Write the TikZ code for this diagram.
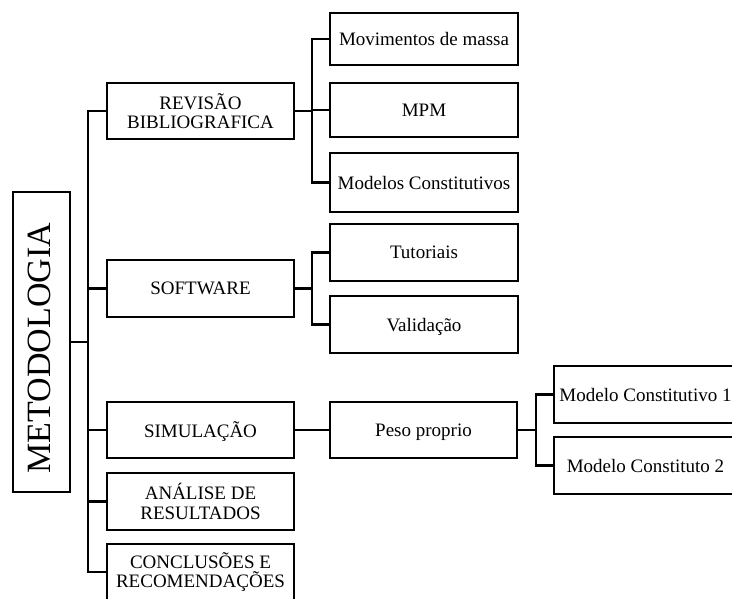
\documentclass[tikz,border=0pt]{standalone}
\usepackage{fontspec}
\setmainfont{Liberation Serif}
\begin{document}
\begin{tikzpicture}[x=1pt,y=-1pt,
  every node/.style={inner sep=0pt, outer sep=0pt},
  box/.style={draw, line width=2.6pt, align=center,
    font=\fontsize{19}{19.5}\selectfont},
  onerow/.style={text depth=0pt},
  link/.style={line width=2.6pt}]
\useasboundingbox (0,0) rectangle (732,599);

% root
\node[box, minimum width=57pt, minimum height=300pt] (meto) at (41.5,342) {};
\node[rotate=90, font=\fontsize{34}{36}\selectfont, text depth=0pt]
  at ([xshift=-2pt,yshift=-6pt]meto.center) {METODOLOGIA};

% first level
\node[box, minimum width=187pt, minimum height=56pt] (rev)  at (200.5,111)   {REVISÃO\\BIBLIOGRAFICA};
\node[box, onerow, minimum width=187pt, minimum height=57pt] (soft) at (200.5,288.5) {SOFTWARE};
\node[box, onerow, minimum width=187pt, minimum height=56pt] (sim)  at (200.5,430)   {SIMULAÇÃO};
\node[box, minimum width=187pt, minimum height=57pt] (ana)  at (200.5,501.5) {ANÁLISE DE\\RESULTADOS};
\node[box, minimum width=187pt, minimum height=56pt] (conc) at (200.5,572)   {CONCLUSÕES E\\RECOMENDAÇÕES};

% second level
\node[box, onerow, minimum width=188pt, minimum height=52pt] (mov)  at (424,39)    {Movimentos de massa};
\node[box, onerow, minimum width=188pt, minimum height=54pt] (mpm)  at (424,110)   {MPM};
\node[box, onerow, minimum width=188pt, minimum height=59pt] (modc) at (424,182.5) {Modelos Constitutivos};
\node[box, onerow, minimum width=188pt, minimum height=57pt] (tut)  at (424,252.5) {Tutoriais};
\node[box, onerow, minimum width=188pt, minimum height=57pt] (val)  at (424,324.5) {Validação};
\node[box, onerow, minimum width=187pt, minimum height=56pt] (peso) at (423.5,430) {Peso proprio};

% third level
\node[box, onerow, minimum width=183pt, minimum height=57pt] (m1) at (645.5,394.5) {Modelo Constitutivo 1};
\node[box, onerow, minimum width=183pt, minimum height=57pt] (m2) at (645.5,465.5) {Modelo Constituto 2};

% trunk from the root
\coordinate (tr) at (88,342);
\draw[link] (meto.east) -- (tr);
\draw[link] (tr) |- (rev.west);
\draw[link] (tr) |- (soft.west);
\draw[link] (tr) |- (sim.west);
\draw[link] (tr) |- (ana.west);
\draw[link] (tr) |- (conc.west);

% branches of the literature review
\coordinate (b1) at (312,111);
\draw[link] (rev.east) -- (b1);
\draw[link] (b1) |- (mov.west);
\draw[link] (b1) |- (mpm.west);
\draw[link] (b1) |- (modc.west);

% branches of the software
\coordinate (b2) at (312,288.5);
\draw[link] (soft.east) -- (b2);
\draw[link] (b2) |- (tut.west);
\draw[link] (b2) |- (val.west);

% simulation chain
\draw[link] (sim.east) -- (peso.west);
\coordinate (b3) at (536,430);
\draw[link] (peso.east) -- (b3);
\draw[link] (b3) |- (m1.west);
\draw[link] (b3) |- (m2.west);
\end{tikzpicture}
\end{document}
